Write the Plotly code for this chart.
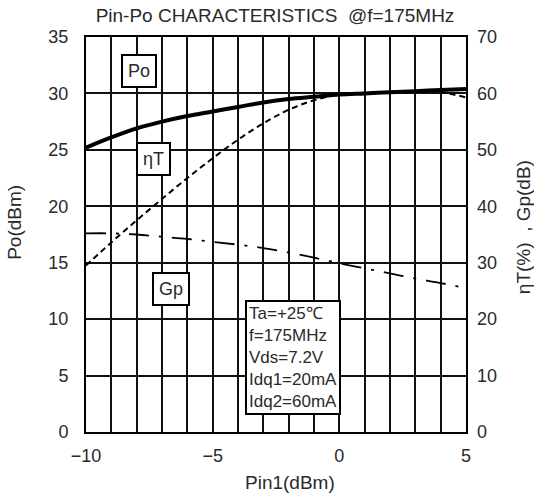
import plotly.graph_objects as go

pin = [-10, -9, -8, -7, -6, -5, -4, -3, -2, -1, 0, 1, 2, 3, 4, 5]
po = [25.2, 26.1, 26.9, 27.5, 28.0, 28.4, 28.8, 29.2, 29.5, 29.7, 29.9, 30.0, 30.1, 30.2, 30.3, 30.4]
eta = [29.5, 33.6, 37.5, 41.3, 45.0, 48.5, 51.8, 54.7, 57.1, 58.8, 59.8, 60.1, 60.3, 60.4, 60.2, 59.3]
gp = [35.2, 35.2, 35.0, 34.6, 34.2, 33.7, 33.2, 32.6, 31.8, 30.9, 29.9, 29.0, 28.1, 27.2, 26.4, 25.5]

title = "Pin-Po CHARACTERISTICS  @f=175MHz"
x_title = "Pin1(dBm)"
y_title = "Po(dBm)"
y2_title = "ηT(%)  , Gp(dB)"
info = "Ta=+25℃<br>f=175MHz<br>Vds=7.2V<br>Idq1=20mA<br>Idq2=60mA"

FONT = "Liberation Sans, Arial, sans-serif"
TXT = "#2a2a2a"

fig = go.Figure()
fig.add_trace(go.Scatter(x=pin, y=po, mode="lines", line=dict(color="black", width=4),
                         line_shape="spline", yaxis="y", showlegend=False))
fig.add_trace(go.Scatter(x=pin, y=eta, mode="lines", line=dict(color="black", width=2, dash="6px,4px"),
                         line_shape="spline", yaxis="y2", showlegend=False))
fig.add_trace(go.Scatter(x=pin, y=gp, mode="lines", line=dict(color="black", width=1.8, dash="20px,10px,3px,10px"),
                         line_shape="spline", yaxis="y2", showlegend=False))

fig.update_layout(
    width=534, height=496,
    margin=dict(l=86, r=68, t=37, b=64, autoexpand=False),
    paper_bgcolor="white", plot_bgcolor="white",
    font=dict(family=FONT, color=TXT, size=18),
    title=dict(text=title, x=0.515, xanchor="center", y=0.97, yanchor="middle",
               font=dict(size=19, family=FONT, color=TXT)),
    xaxis=dict(range=[-10, 5], tickvals=[-10, -5, 0, 5], showgrid=True,
               gridcolor="#111", gridwidth=1.5,
               minor=dict(dtick=1, showgrid=True, gridcolor="#111", gridwidth=1.5, ticks=""),
               showline=True, linecolor="black", linewidth=2, mirror=True, zeroline=False,
               ticks="", ticklabelstandoff=6, automargin=False,
               tickfont=dict(size=18)),
    yaxis=dict(range=[0, 35], dtick=5, showgrid=True, gridcolor="#111", gridwidth=1.5,
               showline=True, linecolor="black", linewidth=2, mirror=True, zeroline=False,
               ticks="", ticklabelstandoff=12, automargin=False,
               tickfont=dict(size=18)),
    yaxis2=dict(range=[0, 70], dtick=10, overlaying="y", side="right", showgrid=False,
                zeroline=False, ticks="", showline=False, ticklabelstandoff=10, automargin=False,
                tickfont=dict(size=18)),
)

# axis titles
fig.add_annotation(text=x_title, xref="paper", yref="paper", x=0.537, y=-0.127,
                   xanchor="center", yanchor="middle",
                   showarrow=False, font=dict(size=19, family=FONT, color=TXT))
fig.add_annotation(text=y_title, xref="paper", yref="paper", x=-0.187, y=0.532,
                   xanchor="center", yanchor="middle",
                   textangle=-90, showarrow=False, font=dict(size=19, family=FONT, color=TXT))
fig.add_annotation(text=y2_title, xref="paper", yref="paper", x=1.153, y=0.519,
                   xanchor="center", yanchor="middle",
                   textangle=-90, showarrow=False, font=dict(size=19, family=FONT, color=TXT))

def label(text, x, y, size=18, align="center", pad=5):
    fig.add_annotation(x=x, y=y, xref="x", yref="y", text=text, showarrow=False,
                       font=dict(size=size, family=FONT, color=TXT), align=align,
                       bordercolor="black", borderwidth=2, bgcolor="white", borderpad=pad)

label("Po", -7.91, 32.0)
label("ηT", -7.34, 24.2)
label("Gp", -6.64, 12.7)
label(info, -1.83, 6.56, size=17, align="left", pad=2)

fig.write_html("out.html")
